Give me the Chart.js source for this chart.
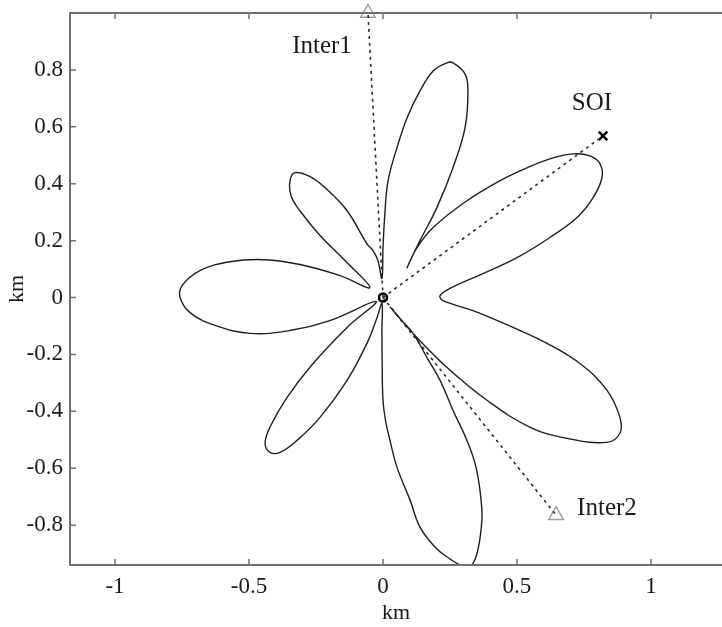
<!DOCTYPE html>
<html>
<head>
<meta charset="utf-8">
<script src="https://cdn.jsdelivr.net/npm/chart.js@4.4.1/dist/chart.umd.min.js"></script>
<style>
    html, body { margin: 0; padding: 0; background: #fff; }
</style>
</head>
<body>
<canvas id="roseChart" width="722" height="627"></canvas>
<script>

/* ==========================================
   DATA (km)
========================================== */

// outline of the pattern, traced petal by petal
const roseX = [
    0.026, 0.112, 0.239, 0.388, 0.549, 0.687, 0.836, 0.884, 0.884, 0.836, 0.735, 0.612, 0.485, 0.336, 0.224, 0.213,      // lower right
    0.250, 0.373, 0.500, 0.623, 0.724, 0.784, 0.817, 0.810, 0.772, 0.709, 0.634, 0.537, 0.437, 0.313, 0.187, 0.127, 0.090, // upper right
    0.138, 0.201, 0.261, 0.306, 0.317, 0.306, 0.261, 0.239, 0.187, 0.138, 0.090, 0.052, 0.019, 0.007, 0.000, -0.004,       // top
    -0.019, -0.037, -0.060, -0.134, -0.216, -0.272, -0.328, -0.347, -0.343, -0.310, -0.235, -0.142, -0.049,                 // upper left
    -0.160, -0.310, -0.440, -0.571, -0.683, -0.750, -0.757, -0.720, -0.627, -0.496, -0.347, -0.198, -0.026,                 // left
    -0.134, -0.261, -0.358, -0.422, -0.440, -0.422, -0.384, -0.321, -0.235, -0.134, -0.060, -0.022, -0.004,                 // lower left
    -0.004, -0.003, 0.000, 0.010, 0.026, 0.052, 0.101, 0.138, 0.194, 0.239, 0.287, 0.310, 0.332, 0.354, 0.369, 0.366, 0.347, 0.313, 0.261, 0.213, 0.164, 0.112, 0.063 // bottom
];

const roseY = [
    -0.032, -0.126, -0.246, -0.361, -0.456, -0.495, -0.509, -0.477, -0.421, -0.326, -0.232, -0.161, -0.105, -0.046, -0.011, 0.007,
    0.032, 0.084, 0.140, 0.211, 0.281, 0.351, 0.421, 0.470, 0.498, 0.505, 0.491, 0.456, 0.411, 0.340, 0.246, 0.175, 0.105,
    0.200, 0.316, 0.456, 0.596, 0.726, 0.786, 0.825, 0.825, 0.796, 0.726, 0.632, 0.526, 0.411, 0.295, 0.175, 0.067,
    0.130, 0.165, 0.189, 0.305, 0.386, 0.425, 0.439, 0.411, 0.358, 0.305, 0.218, 0.130, 0.035,
    0.077, 0.116, 0.133, 0.126, 0.095, 0.042, 0.000, -0.053, -0.098, -0.126, -0.116, -0.081, -0.014,
    -0.105, -0.232, -0.351, -0.456, -0.512, -0.544, -0.544, -0.502, -0.421, -0.291, -0.161, -0.070, -0.021,
    -0.116, -0.240, -0.361, -0.435, -0.502, -0.596, -0.712, -0.807, -0.877, -0.912, -0.940, -0.948, -0.940, -0.888, -0.782, -0.712, -0.596, -0.502, -0.396, -0.291, -0.211, -0.126, -0.074
];

const markerNames = ["Inter1", "SOI", "Inter2"];
const markerX = [-0.056, 0.821, 0.646];
const markerY = [1.0, 0.568, -0.765];

const xTicks = [-1, -0.5, 0, 0.5, 1];
const yTicks = [-0.8, -0.6, -0.4, -0.2, 0, 0.2, 0.4, 0.6, 0.8];

/* ==========================================
   CHART
========================================== */

const serif = "'Liberation Serif', 'DejaVu Serif', serif";

const roseData = roseX.map((x, i) => ({ x: x, y: roseY[i] }));
roseData.push(roseData[0]);

const rayDatasets = markerNames.map((name, i) => ({
    data: [{ x: 0, y: 0 }, { x: markerX[i], y: markerY[i] }],
    showLine: true,
    borderColor: "#2a2a2a",
    borderWidth: 1.6,
    borderDash: [3, 4],
    pointRadius: 0
}));

const markerDatasets = markerNames.map((name, i) => {
    const soi = name === "SOI";
    return {
        data: [{ x: markerX[i], y: markerY[i] }],
        pointStyle: soi ? "crossRot" : "triangle",
        pointRadius: soi ? 6 : 8.5,
        pointBorderWidth: soi ? 2.6 : 1.4,
        pointBorderColor: soi ? "#000" : "#9a9a9a",
        pointBackgroundColor: "rgba(255,255,255,0)",
        clip: false
    };
});

// no label overflow padding: the frame is placed by layout.padding and afterFit
const noPad = s => { s.paddingTop = 0; s.paddingBottom = 0; s.paddingLeft = 0; s.paddingRight = 0; };

const framePlugin = {
    id: "frame",
    afterDatasetsDraw(chart) {
        const { ctx, chartArea: a, scales } = chart;
        ctx.save();
        ctx.strokeStyle = "#6f6f6f";
        ctx.lineWidth = 2;
        // right side runs off the picture
        ctx.beginPath();
        ctx.moveTo(a.right + 2, a.top);
        ctx.lineTo(a.left, a.top);
        ctx.lineTo(a.left, a.bottom);
        ctx.lineTo(a.right + 2, a.bottom);
        ctx.stroke();

        ctx.lineWidth = 1.5;
        ctx.beginPath();
        xTicks.forEach(v => {
            const px = scales.x.getPixelForValue(v);
            ctx.moveTo(px, a.bottom); ctx.lineTo(px, a.bottom - 6);
            ctx.moveTo(px, a.top); ctx.lineTo(px, a.top + 6);
        });
        yTicks.forEach(v => {
            const py = scales.y.getPixelForValue(v);
            ctx.moveTo(a.left, py); ctx.lineTo(a.left + 6, py);
        });
        ctx.stroke();

        // marker names
        ctx.fillStyle = "#1a1a1a";
        ctx.font = "25px " + serif;
        ctx.textBaseline = "middle";
        const offs = [[-46, 33, "center"], [-11, -32, "center"], [21, -7, "left"]];
        markerNames.forEach((name, i) => {
            ctx.textAlign = offs[i][2];
            ctx.fillText(name,
                scales.x.getPixelForValue(markerX[i]) + offs[i][0],
                scales.y.getPixelForValue(markerY[i]) + offs[i][1]);
        });
        ctx.restore();
    }
};

new Chart(document.getElementById("roseChart"), {

    type: "scatter",

    data: {
        datasets: [
            {
                data: roseData,
                showLine: true,
                borderColor: "#1e1e1e",
                borderWidth: 1.4,
                tension: 0.4,
                pointRadius: 0
            },
            ...rayDatasets,
            ...markerDatasets,
            {
                data: [{ x: 0, y: 0 }],
                pointStyle: "circle",
                pointRadius: 4,
                pointBorderWidth: 2.6,
                pointBorderColor: "#000",
                pointBackgroundColor: "#fff"
            }
        ]
    },

    options: {
        responsive: false,
        animation: false,
        layout: {
            autoPadding: false,
            padding: { top: 13, right: 0, left: 0, bottom: 0 }
        },
        plugins: {
            legend: { display: false },
            tooltip: { enabled: false }
        },
        scales: {
            x: {
                type: "linear",
                min: -1.168,
                max: 1.265,
                afterBuildTicks: s => { s.ticks = xTicks.map(v => ({ value: v })); },
                afterFit: s => { s.height = 62; noPad(s); },
                grid: { display: false, drawTicks: false },
                border: { display: false },
                ticks: {
                    padding: 8,
                    color: "#1a1a1a",
                    font: { family: serif, size: 23 },
                    callback: v => String(v)
                },
                title: {
                    display: true,
                    text: "km",
                    color: "#1a1a1a",
                    font: { family: serif, size: 22 },
                    padding: { top: 0, bottom: 1 }
                }
            },
            y: {
                type: "linear",
                min: -0.94,
                max: 1.0,
                afterBuildTicks: s => { s.ticks = yTicks.map(v => ({ value: v })); },
                afterFit: s => { s.width = 70; noPad(s); },
                grid: { display: false, drawTicks: false },
                border: { display: false },
                ticks: {
                    padding: 7,
                    color: "#1a1a1a",
                    font: { family: serif, size: 23 },
                    callback: v => String(v)
                },
                title: {
                    display: true,
                    text: "km",
                    color: "#1a1a1a",
                    font: { family: serif, size: 22 },
                    padding: { top: 4, bottom: 0 }
                }
            }
        }
    },

    plugins: [framePlugin]

});

</script>
</body>
</html>
